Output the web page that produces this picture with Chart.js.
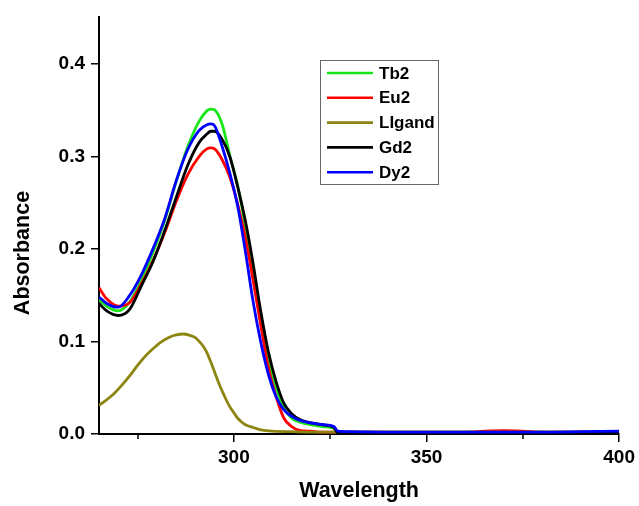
<!DOCTYPE html>
<html>
<head>
<meta charset="utf-8">
<script src="https://cdn.jsdelivr.net/npm/chart.js@4.4.1/dist/chart.umd.min.js"></script>
<style>
  html, body { margin:0; padding:0; background:#fff; }
  #wrap { width:639px; height:506px; }
</style>
</head>
<body>
<div id="wrap"><canvas id="uv" width="639" height="506"></canvas></div>
<script>
// UV-Vis absorbance spectra of the complexes and the free ligand
const wl = [265,267,270,273,276,279,282,285,288,291,293,294,295,297,299,301,303,305,307,309,311,313,315,317,320,323,326,327,330,340,350,360,365,370,375,380,390,400];

const tb2 = [0.145,0.138,0.133,0.143,0.166,0.196,0.230,0.272,0.310,0.338,0.349,0.351,0.350,0.334,0.300,0.268,0.224,0.170,0.120,0.079,0.050,0.028,0.017,0.013,0.010,0.008,0.006,0.002,0.002,0.002,0.002,0.002,0.002,0.002,0.002,0.002,0.002,0.002];
const eu2 = [0.158,0.146,0.138,0.142,0.162,0.187,0.217,0.251,0.280,0.300,0.308,0.309,0.308,0.296,0.277,0.248,0.212,0.166,0.117,0.071,0.040,0.017,0.008,0.004,0.003,0.002,0.002,0.002,0.002,0.002,0.002,0.002,0.003,0.0035,0.003,0.002,0.002,0.002];
const gd2 = [0.141,0.133,0.128,0.135,0.160,0.186,0.219,0.255,0.290,0.315,0.324,0.327,0.327,0.318,0.299,0.267,0.230,0.184,0.132,0.088,0.056,0.033,0.022,0.016,0.012,0.010,0.007,0.001,0.001,0.001,0.001,0.001,0.001,0.001,0.001,0.001,0.001,0.001];
const dy2 = [0.148,0.141,0.137,0.150,0.172,0.200,0.232,0.273,0.307,0.328,0.334,0.335,0.333,0.310,0.281,0.246,0.197,0.143,0.099,0.064,0.040,0.026,0.019,0.015,0.012,0.010,0.008,0.003,0.0025,0.002,0.002,0.002,0.002,0.002,0.002,0.002,0.0025,0.003];

const wlLig = [265,267,269,271,273,275,277,279,281,283,285,287,289,290,291,292,293,294,295,296,297,298,299,300,301,302,303,305,307,310,315,320,340,360,380,400];
const ligand = [0.031,0.037,0.044,0.053,0.063,0.074,0.084,0.092,0.099,0.104,0.107,0.108,0.106,0.104,0.100,0.095,0.088,0.078,0.067,0.056,0.046,0.037,0.029,0.023,0.017,0.013,0.010,0.007,0.0045,0.003,0.0025,0.002,0.002,0.002,0.002,0.002];

const xMajor = [300,350,400];
const xMinor = [275,325,375];
const yMajor = [0,0.1,0.2,0.3,0.4];

const FONT = "'Liberation Sans', Arial, sans-serif";

function pts(xs, ys){ return xs.map((x,i)=>({x, y:ys[i]})); }

const series = [
  {label:"Tb2",    color:"#19e619", data:pts(wl, tb2),        order:4},
  {label:"Eu2",    color:"#ff0000", data:pts(wl, eu2),        order:3},
  {label:"LIgand", color:"#8c8510", data:pts(wlLig, ligand),  order:2},
  {label:"Gd2",    color:"#000000", data:pts(wl, gd2),        order:1},
  {label:"Dy2",    color:"#0000ff", data:pts(wl, dy2),        order:0},
];

// y title, boxed legend inside the plot, minor ticks on the x axis
const extras = {
  id:"extras",
  afterDraw(chart){
    const ctx = chart.ctx, x = chart.scales.x;
    ctx.save();
    ctx.strokeStyle = "#000"; ctx.lineWidth = 1.5;
    xMinor.forEach(v=>{
      const px = Math.round(x.getPixelForValue(v));
      ctx.beginPath(); ctx.moveTo(px, x.top); ctx.lineTo(px, x.top+5); ctx.stroke();
    });

    ctx.save();
    ctx.translate(23, 253);
    ctx.rotate(-Math.PI/2);
    ctx.font = "bold 21.5px " + FONT;
    ctx.fillStyle = "#000"; ctx.textAlign = "center"; ctx.textBaseline = "middle";
    ctx.fillText("Absorbance", 0, 0);
    ctx.restore();

    ctx.strokeStyle = "#666"; ctx.lineWidth = 1;
    ctx.strokeRect(320.5, 60.5, 118, 124);
    ctx.font = "bold 17px " + FONT;
    ctx.textBaseline = "middle";
    series.forEach((s,i)=>{
      const y = 73 + i*24.8;
      ctx.strokeStyle = s.color; ctx.lineWidth = 2.6;
      ctx.beginPath(); ctx.moveTo(327, y); ctx.lineTo(373, y); ctx.stroke();
      ctx.fillStyle = "#000";
      ctx.fillText(s.label, 379, y+1);
    });
    ctx.restore();
  }
};

new Chart(document.getElementById("uv"), {
  type:"line",
  data:{ datasets: series.map(s=>({
    label:s.label, data:s.data, order:s.order,
    borderColor:s.color, borderWidth:2.8, pointRadius:0,
    cubicInterpolationMode:"monotone", fill:false,
  })) },
  options:{
    responsive:false, animation:false,
    layout:{ padding:{ top:15, right:19, left:0, bottom:0 } },
    plugins:{ legend:{display:false}, tooltip:{enabled:false} },
    scales:{
      x:{
        type:"linear", min:265, max:400,
        afterBuildTicks(ax){ ax.ticks = xMajor.map(v=>({value:v})); },
        afterFit(ax){ ax.height = 72; },
        grid:{ drawOnChartArea:false, tickLength:8, color:"#000", lineWidth:1.5 },
        border:{ color:"#000", width:2 },
        ticks:{ color:"#000", padding:4, maxRotation:0, font:{family:FONT, size:19, weight:"bold"} },
        title:{ display:true, text:"Wavelength", color:"#000", padding:{top:0, bottom:2},
                font:{family:FONT, size:21.5, weight:"bold"} },
      },
      y:{
        min:0, max:0.45,
        afterBuildTicks(ax){ ax.ticks = yMajor.map(v=>({value:v})); },
        afterFit(ax){ ax.width = 99; },
        grid:{ drawOnChartArea:false, tickLength:8, color:"#000", lineWidth:1.5 },
        border:{ color:"#000", width:2 },
        ticks:{ color:"#000", padding:6, callback:v=>v.toFixed(1), font:{family:FONT, size:19, weight:"bold"} },
        title:{ display:false },
      },
    },
  },
  plugins:[extras],
});
</script>
</body>
</html>
